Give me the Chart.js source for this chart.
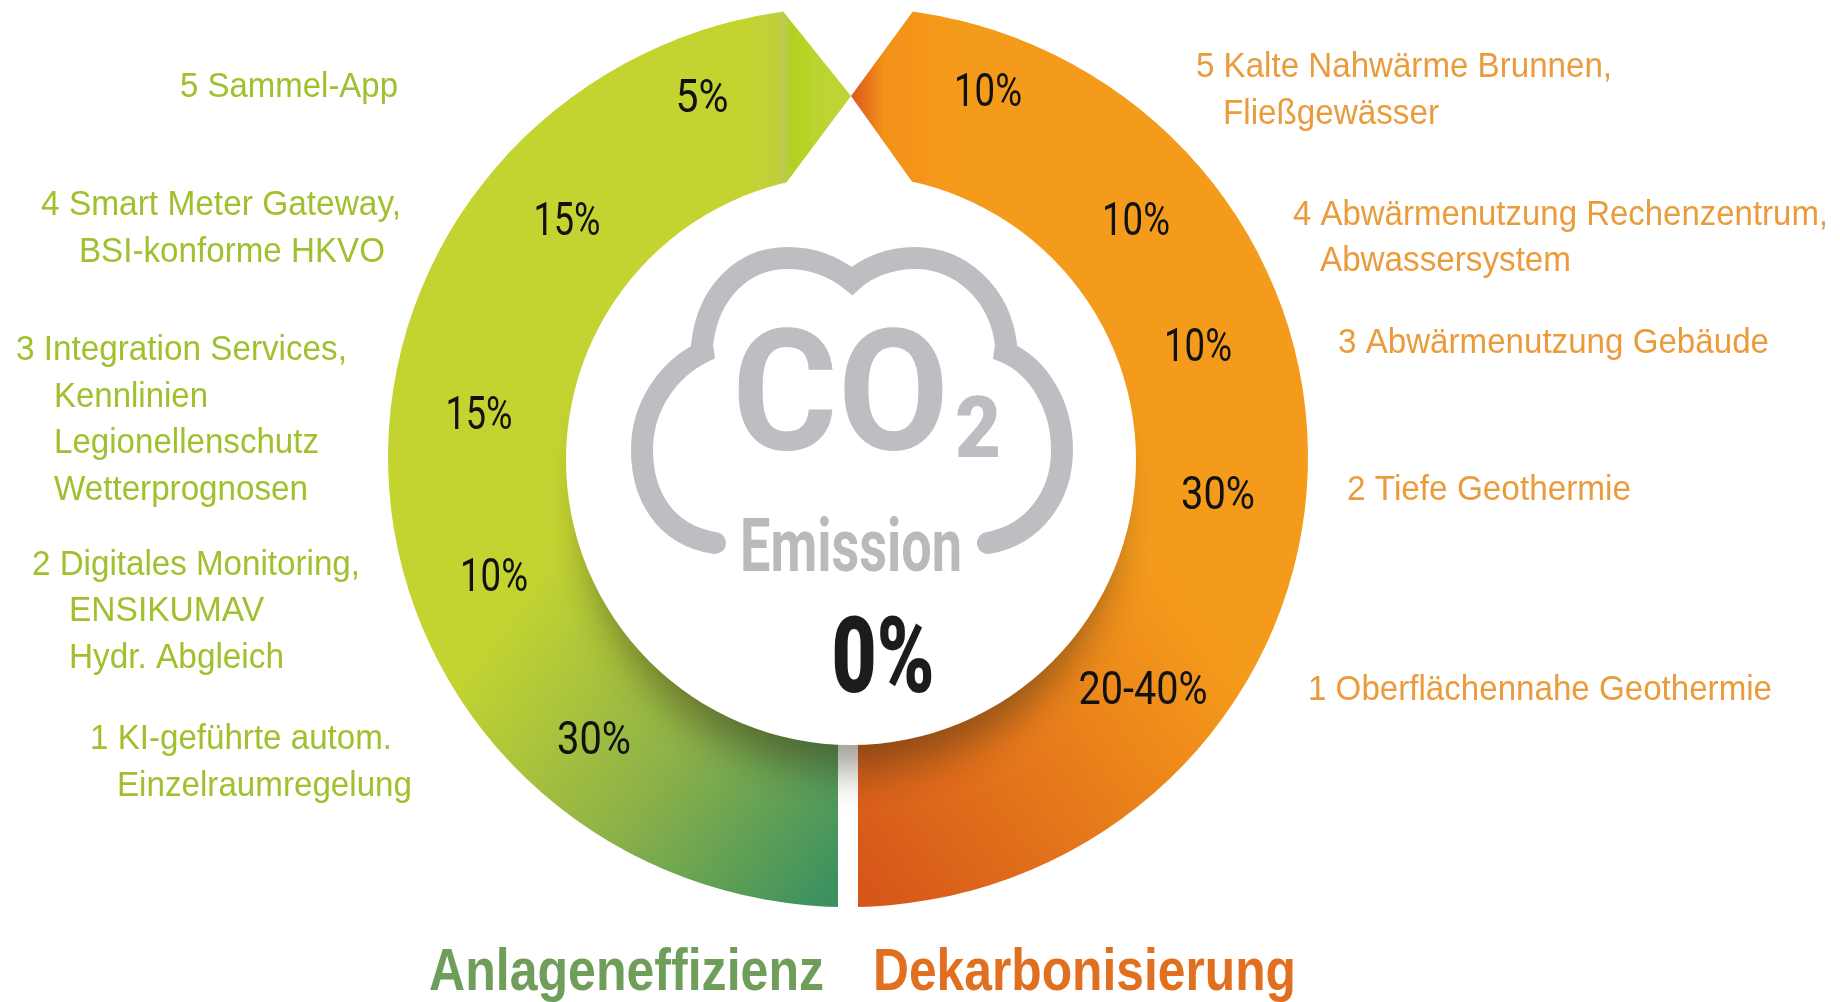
<!DOCTYPE html>
<html>
<head>
<meta charset="utf-8">
<style>
  html, body { margin: 0; padding: 0; background: #fff; }
  canvas { display: block; }
</style>
<script src="https://cdn.jsdelivr.net/npm/chart.js@4/dist/chart.umd.min.js"></script>
</head>
<body>
<canvas id="chart" width="1840" height="1002"></canvas>
<script>
// data
const ringLabels = ["Dekarbonisierung", "Anlageneffizienz", ""];
const ringValues = [50, 50, 8.1];

const greenShares = ["5%", "15%", "15%", "10%", "30%"];
const orangeShares = ["10%", "10%", "10%", "30%", "20-40%"];

const greenLines = [
  "5 Sammel-App",
  "4 Smart Meter Gateway,",
  "BSI-konforme HKVO",
  "3 Integration Services,",
  "Kennlinien",
  "Legionellenschutz",
  "Wetterprognosen",
  "2 Digitales Monitoring,",
  "ENSIKUMAV",
  "Hydr. Abgleich",
  "1 KI-geführte autom.",
  "Einzelraumregelung",
];
const orangeLines = [
  "5 Kalte Nahwärme Brunnen,",
  "Fließgewässer",
  "4 Abwärmenutzung Rechenzentrum,",
  "Abwassersystem",
  "3 Abwärmenutzung Gebäude",
  "2 Tiefe Geothermie",
  "1 Oberflächennahe Geothermie",
];

// layout, [x, y, width]
const greenLinePos = [
  [180, 87, 218], [41, 205, 360], [79, 252, 306], [16, 350, 331],
  [54, 397, 154], [54, 443, 265], [54, 490, 254], [32, 565, 328],
  [69, 611, 195], [69, 658, 215], [90, 739, 302], [117, 786, 295],
];
const orangeLinePos = [
  [1196, 67, 416], [1223, 114, 216], [1293, 215, 535], [1320, 261, 251],
  [1338, 343, 431], [1347, 490, 284], [1308, 690, 464],
];
const greenSharePos = [
  [702, 100, 53], [567, 223, 67], [479, 417, 67], [494, 579, 68], [594, 742, 74],
];
const orangeSharePos = [
  [988, 94, 68], [1136, 223, 68], [1198, 349, 68], [1218, 497, 74], [1143, 692, 129],
];

const TIP = { x: 851, y: 96 };
const DISC = { x: 851, y: 460, r: 285 };
const SQUASH = 450 / 460; // the ring is slightly flatter than a circle

const canvas = document.getElementById("chart");
const ctx = canvas.getContext("2d");

const greenFill = ctx.createLinearGradient(490, 640, 838, 890);
greenFill.addColorStop(0, "#c3d431");
greenFill.addColorStop(0.5, "#8fb247");
greenFill.addColorStop(1, "#3c9160");

const orangeFill = ctx.createLinearGradient(1210, 640, 858, 890);
orangeFill.addColorStop(0, "#f59b1b");
orangeFill.addColorStop(1, "#d6561a");

const drawText = (c, text, x, y, w, font, color, align = "left", baseline = "middle") => {
  c.font = font;
  c.fillStyle = color;
  c.textAlign = align;
  c.textBaseline = baseline;
  c.fillText(text, x, y, w);
};

const rad = (d) => ((d - 90) * Math.PI) / 180;

// the two ring ends run together to a point at the top
const drawTip = (c, arc, side, fill) => {
  const from = side * 22;
  const to = side * 8.1;
  const R = arc.outerRadius;
  c.beginPath();
  c.ellipse(arc.x, arc.y, R, R * SQUASH, 0, rad(from), rad(to), side > 0);
  c.lineTo(TIP.x, TIP.y);
  c.lineTo(side > 0 ? 913 : 786, 183);
  c.lineTo(arc.x + 262 * Math.cos(rad(from)), arc.y + 262 * Math.sin(rad(from)));
  c.closePath();
  c.fillStyle = fill;
  c.fill();
};

const cloud = new Path2D(
  "M715 543 C663 535 642 493 642 450 C642 407 667 370 703 352 " +
  "L702 345 C708 290 745 258 787 258 C813 258 835 267 852 281 " +
  "C867 267 890 258 915 258 C960 258 1000 293 1006 345 " +
  "L1005 352 C1040 367 1062 407 1062 450 C1062 497 1033 535 988 543"
);

const artwork = {
  id: "artwork",
  beforeDatasetsDraw(chart) {
    const c = chart.ctx;
    const { y } = chart.getDatasetMeta(0).data[0];
    c.save();
    c.translate(0, y);
    c.scale(1, SQUASH);
    c.translate(0, -y);
  },
  afterDatasetsDraw(chart) {
    const c = chart.ctx;
    const arcs = chart.getDatasetMeta(0).data;
    c.restore();
    c.save();

    const tipGreen = c.createLinearGradient(745, 0, 851, 0);
    tipGreen.addColorStop(0, "#c3d431");
    tipGreen.addColorStop(0.3, "#bfd03a");
    tipGreen.addColorStop(0.36, "#bccb52");
    tipGreen.addColorStop(0.45, "#b4d01e");
    tipGreen.addColorStop(0.7, "#bcd432");
    tipGreen.addColorStop(1, "#bed434");
    drawTip(c, arcs[1], -1, tipGreen);

    const tipOrange = c.createLinearGradient(851, 0, 960, 0);
    tipOrange.addColorStop(0, "#d9581f");
    tipOrange.addColorStop(0.3, "#f39119");
    tipOrange.addColorStop(1, "#f59b1b");
    drawTip(c, arcs[0], 1, tipOrange);

    // white slit between the two halves at the bottom
    c.fillStyle = "#fff";
    c.fillRect(838, 700, 20, 230);

    // soft shadow of the middle, lower part only (caster sits off the canvas)
    c.shadowColor = "rgba(45,35,15,0.45)";
    c.shadowBlur = 40;
    c.shadowOffsetX = 3000;
    c.beginPath();
    c.arc(DISC.x - 3000, DISC.y + 45, DISC.r - 20, 0, Math.PI * 2);
    c.fill();
    c.shadowColor = "transparent";
    c.shadowBlur = 0;
    c.shadowOffsetX = 0;

    // white middle, a bit lower than the ring centre
    c.beginPath();
    c.arc(DISC.x, DISC.y, DISC.r, 0, Math.PI * 2);
    c.fill();

    // cloud
    c.lineWidth = 22;
    c.strokeStyle = "#bdbec1";
    c.lineCap = "round";
    c.lineJoin = "miter";
    c.stroke(cloud);

    drawText(c, "CO", 732, 449, 217, "bold 168px Roboto", "#bdbec1", "left", "alphabetic");
    drawText(c, "2", 955, 457, 46, "900 85px Roboto", "#bdbec1", "left", "alphabetic");
    drawText(c, "Emission", 851, 571, 222, "bold 75px Roboto", "#b9babc", "center", "alphabetic");
    drawText(c, "0%", 883, 692, 103, "900 105px Roboto", "#1c1c1c", "center", "alphabetic");

    greenShares.forEach((t, i) => {
      const [x, y, w] = greenSharePos[i];
      drawText(c, t, x, y, w, "46px Roboto", "#111", "center");
    });
    orangeShares.forEach((t, i) => {
      const [x, y, w] = orangeSharePos[i];
      drawText(c, t, x, y, w, "46px Roboto", "#111", "center");
    });

    greenLines.forEach((t, i) => {
      const [x, y, w] = greenLinePos[i];
      drawText(c, t, x, y, w, "35px 'Liberation Sans'", "#a0c02e");
    });
    orangeLines.forEach((t, i) => {
      const [x, y, w] = orangeLinePos[i];
      drawText(c, t, x, y, w, "35px 'Liberation Sans'", "#ea9b3c");
    });

    drawText(c, ringLabels[1], 429, 990, 395, "bold 60px 'Liberation Sans'", "#6e9e5a", "left", "alphabetic");
    drawText(c, ringLabels[0], 873, 990, 423, "bold 60px 'Liberation Sans'", "#e0701f", "left", "alphabetic");

    c.restore();
  },
};

new Chart(canvas, {
  type: "doughnut",
  data: {
    labels: ringLabels,
    datasets: [
      {
        data: ringValues,
        backgroundColor: [orangeFill, greenFill, "rgba(0,0,0,0)"],
        borderWidth: 0,
        clip: false,
      },
    ],
  },
  options: {
    responsive: false,
    animation: false,
    events: [],
    radius: 460,
    cutout: "58%",
    rotation: 13.5,
    layout: { padding: { right: 144, bottom: 88 } },
    plugins: {
      legend: { display: false },
      tooltip: { enabled: false },
    },
  },
  plugins: [artwork],
});
</script>
</body>
</html>
